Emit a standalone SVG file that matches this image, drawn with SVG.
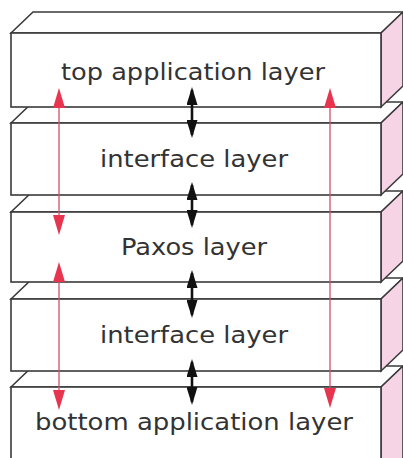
<svg xmlns="http://www.w3.org/2000/svg" width="403" height="458" viewBox="0 0 403 458">
  <style>
    .face { fill: #ffffff; stroke: #3a3a3a; stroke-width: 1.6; stroke-linejoin: miter; }
    .side { fill: #f6d4e6; stroke: #3a3a3a; stroke-width: 1.6; }
    .label { font-family: "DejaVu Sans", "Liberation Sans", sans-serif; font-size: 23.5px; fill: #333333; text-anchor: middle; }
    .flow { stroke: #111111; stroke-width: 2.6; fill: none; marker-start: url(#headBlack); marker-end: url(#headBlack); }
    .span { stroke: #d0506c; stroke-width: 1.3; fill: none; marker-start: url(#headRed); marker-end: url(#headRed); }
  </style>
  <defs>
    <marker id="headBlack" viewBox="0 0 18 11" refX="15" refY="5.5" markerWidth="18" markerHeight="11" markerUnits="userSpaceOnUse" orient="auto-start-reverse">
      <path d="M0,0 L18,5.5 L0,11 Z" fill="#111111"/>
    </marker>
    <marker id="headRed" viewBox="0 0 20 12" refX="17" refY="6" markerWidth="20" markerHeight="12" markerUnits="userSpaceOnUse" orient="auto-start-reverse">
      <path d="M0,0 L20,6 L0,12 Z" fill="#e8354f"/>
    </marker>
  </defs>

  <!-- layers, drawn bottom-up so each upper block hides the one beneath -->
  <g id="bottom-application-layer">
    <polygon class="face" points="11,387 33,366 403,366 381,387"/>
    <polygon class="side" points="381,387 403,366 403,460 381,460"/>
    <rect class="face" x="11" y="387" width="370" height="74"/>
    <text class="label" x="194" y="430" textLength="318" lengthAdjust="spacingAndGlyphs">bottom application layer</text>
  </g>

  <g id="lower-interface-layer">
    <polygon class="face" points="11,299 33,278 403,278 381,299"/>
    <polygon class="side" points="381,299 403,278 403,350 381,371"/>
    <rect class="face" x="11" y="299" width="370" height="72"/>
    <text class="label" x="194" y="343" textLength="188" lengthAdjust="spacingAndGlyphs">interface layer</text>
  </g>

  <g id="paxos-layer">
    <polygon class="face" points="11,212 33,191 403,191 381,212"/>
    <polygon class="side" points="381,212 403,191 403,261 381,282"/>
    <rect class="face" x="11" y="212" width="370" height="70"/>
    <text class="label" x="194" y="255" textLength="146" lengthAdjust="spacingAndGlyphs">Paxos layer</text>
  </g>

  <g id="upper-interface-layer">
    <polygon class="face" points="11,123 33,102 403,102 381,123"/>
    <polygon class="side" points="381,123 403,102 403,174 381,195"/>
    <rect class="face" x="11" y="123" width="370" height="72"/>
    <text class="label" x="194" y="167" textLength="188" lengthAdjust="spacingAndGlyphs">interface layer</text>
  </g>

  <g id="top-application-layer">
    <polygon class="face" points="11,33 33,12 403,12 381,33"/>
    <polygon class="side" points="381,33 403,12 403,86 381,107"/>
    <rect class="face" x="11" y="33" width="370" height="74"/>
    <text class="label" x="193" y="80" textLength="264" lengthAdjust="spacingAndGlyphs">top application layer</text>
  </g>

  <!-- connectors: black between neighbouring layers, red spanning several -->
  <g id="connectors">
    <line class="flow" x1="192" y1="90" x2="192" y2="135"/>
    <line class="flow" x1="192" y1="185" x2="192" y2="225"/>
    <line class="flow" x1="192" y1="273" x2="192" y2="315"/>
    <line class="flow" x1="192" y1="362" x2="192" y2="402"/>

    <line class="span" x1="59" y1="91" x2="59" y2="232"/>
    <line class="span" x1="59" y1="265" x2="59" y2="407"/>
    <line class="span" x1="330" y1="91" x2="330" y2="405"/>
  </g>
</svg>
